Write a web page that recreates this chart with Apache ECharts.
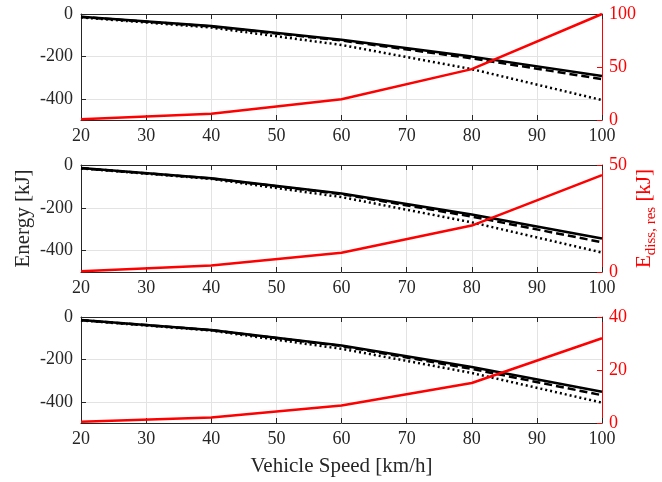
<!DOCTYPE html>
<html>
<head>
<meta charset="utf-8">
<script src="https://cdn.jsdelivr.net/npm/echarts@6/dist/echarts.min.js"></script>
<style>html,body{margin:0;padding:0;background:#fff}#c{width:662px;height:482px}</style>
</head>
<body>
<div id="c"></div>
<script>
const speeds = [20, 40, 60, 80, 100];
const xTicks = [20, 30, 40, 50, 60, 70, 80, 90, 100];
const leftTicks = [-400, -200, 0];

const solid1 = [-13, -57, -121, -201, -292];
const dash1  = [-14, -59, -125, -209, -307];
const dot1   = [-16, -64, -146, -260, -406];
const red1   = [0.8, 6, 19.5, 48, 100];

const solid2 = [-14, -62, -133, -231, -343];
const dash2  = [-15, -63, -136, -241, -361];
const dot2   = [-16, -65, -150, -268, -409];
const red2   = [0.3, 3, 9, 21.7, 45.3];

const solid3 = [-14, -61, -134, -236, -353];
const dash3  = [-15, -62, -137, -245, -369];
const dot3   = [-16, -64, -150, -264, -404];
const red3   = [0.5, 2.1, 6.6, 15.1, 32];

const rightMax = [100, 50, 40];
const rightInterval = [50, 50, 20];

const panels = [
  {solid: solid1, dash: dash1, dot: dot1, red: red1},
  {solid: solid2, dash: dash2, dot: dot2, red: red2},
  {solid: solid3, dash: dash3, dot: dot3, red: red3}
];

const FONT = 'Liberation Serif';
const AX = '#262626';
const RED = '#ff0000';
const GRIDC = '#e3e3e3';
const tops = [14, 165, 317];
const heights = [106, 107, 106];

const pair = arr => speeds.map((s, i) => [s, arr[i]]);

const grid = tops.map((t, i) => ({left: 81, right: 60, top: t, height: heights[i],
  containLabel: false, outerBoundsMode: 'none'}));

const xAxis = [];
for (let i = 0; i < 3; i++) {
  xAxis.push({
    type: 'value', gridIndex: i, position: 'bottom', min: 20, max: 100, interval: 10,
    axisLine: {show: true, onZero: false, lineStyle: {color: AX, width: 1}},
    axisTick: {show: true, inside: true, length: 5, lineStyle: {color: AX}},
    axisLabel: {show: true, fontFamily: FONT, fontSize: 18, color: AX, margin: 7,
      customValues: xTicks},
    splitLine: {show: true, lineStyle: {color: GRIDC, width: 1}},
    name: i === 2 ? 'Vehicle Speed [km/h]' : '',
    nameLocation: 'middle', nameGap: 33, nameMoveOverlap: false,
    nameTextStyle: {fontFamily: FONT, fontSize: 21, color: AX}
  });
}
for (let i = 0; i < 3; i++) {
  xAxis.push({
    type: 'value', gridIndex: i, position: 'top', min: 20, max: 100, interval: 10,
    axisLine: {show: true, onZero: false, lineStyle: {color: AX, width: 1}},
    axisTick: {show: true, inside: true, length: 5, lineStyle: {color: AX}},
    axisLabel: {show: false},
    splitLine: {show: false}
  });
}

const yAxis = [];
for (let i = 0; i < 3; i++) {
  yAxis.push({
    type: 'value', gridIndex: i, position: 'left', min: -500, max: 0, interval: 100,
    axisLine: {show: true, onZero: false, lineStyle: {color: AX, width: 1}},
    axisTick: {show: true, inside: true, length: 5, lineStyle: {color: AX}, customValues: leftTicks},
    axisLabel: {show: true, fontFamily: FONT, fontSize: 18, color: AX, margin: 8, customValues: leftTicks},
    splitLine: {show: true, lineStyle: {color: GRIDC, width: 1}},
    name: i === 1 ? 'Energy [kJ]' : '',
    nameLocation: 'middle', nameGap: 47, nameRotate: 90, nameMoveOverlap: false,
    nameTextStyle: {fontFamily: FONT, fontSize: 21, color: AX}
  });
}
for (let i = 0; i < 3; i++) {
  yAxis.push({
    type: 'value', gridIndex: i, position: 'right', min: 0, max: rightMax[i], interval: rightInterval[i],
    axisLine: {show: true, onZero: false, lineStyle: {color: RED, width: 1}},
    axisTick: {show: true, inside: true, length: 5, lineStyle: {color: RED}},
    axisLabel: {show: true, fontFamily: FONT, fontSize: 18, color: RED, margin: 7},
    splitLine: {show: false},
    name: i === 1 ? '{e|E}{s|diss, res}{e| [kJ]}' : '',
    nameLocation: 'middle', nameGap: 27, nameRotate: 90, nameMoveOverlap: false,
    nameTextStyle: {fontFamily: FONT, fontSize: 21, color: RED,
      rich: {
        e: {fontFamily: FONT, fontSize: 21, color: RED, lineHeight: 30},
        s: {fontFamily: FONT, fontSize: 15, color: RED, lineHeight: 15, verticalAlign: 'bottom'}
      }}
  });
}

const series = [];
panels.forEach((p, i) => {
  series.push({type: 'line', xAxisIndex: i, yAxisIndex: i, data: pair(p.dot), symbol: 'none',
    lineStyle: {color: '#000', width: 2.5, type: [2, 3]}, z: 2});
  series.push({type: 'line', xAxisIndex: i, yAxisIndex: i, data: pair(p.dash), symbol: 'none',
    lineStyle: {color: '#000', width: 2.5, type: [8, 4]}, z: 3});
  series.push({type: 'line', xAxisIndex: i, yAxisIndex: i, data: pair(p.solid), symbol: 'none',
    lineStyle: {color: '#000', width: 2.5}, z: 4});
  series.push({type: 'line', xAxisIndex: i, yAxisIndex: 3 + i, data: pair(p.red), symbol: 'none',
    lineStyle: {color: RED, width: 2.5}, z: 5});
});

const chart = echarts.init(document.getElementById('c'), null, {renderer: 'canvas'});
chart.setOption({animation: false, backgroundColor: '#fff', grid, xAxis, yAxis, series});
</script>
</body>
</html>
